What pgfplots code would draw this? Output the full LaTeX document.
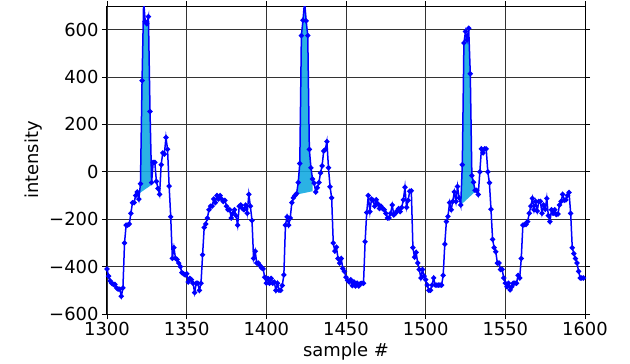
\documentclass[border=0pt]{standalone}
\usepackage{fontspec}
\setmainfont{DejaVu Sans}
\usepackage{pgfplots}
\pgfplotsset{compat=1.18}
\definecolor{fillc}{RGB}{20,170,225}
\begin{document}
\begin{tikzpicture}
\useasboundingbox (-107bp,-50bp) rectangle (523bp,314bp);
\begin{axis}[
  at={(0,0)}, anchor=south west,
  scale only axis, width=478bp, height=308bp,
  xmin=1300, xmax=1600, ymin=-600, ymax=700,
  xtick={1300,1350,1400,1450,1500,1550,1600},
  ytick={-600,-400,-200,0,200,400,600},
  yticklabels={−600,−400,−200,0,200,400,600},
  grid=major,
  grid style={black!80, line width=0.9bp},
  axis line style={line width=1bp},
  tick align=outside, major tick length=5bp,
  tick style={black, line width=0.9bp},
  xlabel={sample \#}, ylabel={intensity},
  ticklabel style={font=\fontsize{18}{21}\selectfont},
  label style={font=\fontsize{18}{21}\selectfont},
  /pgf/number format/assume math mode=true,
  /pgf/number format/1000 sep={},
]
\addplot[fill=fillc, draw=none, fill opacity=0.9] coordinates {
(1320.4,-90) (1321,-50) (1322,385) (1323,720) (1324,635) (1325,625) (1326,655) (1327,255) (1328,-45) (1328,-55)
};
\addplot[fill=fillc, draw=none, fill opacity=0.9] coordinates {
(1419.5,-95) (1420,-45) (1421,35) (1422,575) (1423,640) (1424,720) (1425,637) (1426,575) (1427,95) (1428,17) (1429,-30) (1429,-82)
};
\addplot[fill=fillc, draw=none, fill opacity=0.9] coordinates {
(1522,-140) (1523,30) (1524,544) (1525,592) (1526,557) (1527,606) (1528,414) (1529,-16) (1530,-44) (1531,-78) (1532,-78)
};
\addplot[blue, line width=1.5bp, mark=*, mark size=1.8bp, mark options={blue}] coordinates {
(1300,-410) (1301,-440) (1302,-460) (1303,-470) (1304,-475) (1305,-475) (1306,-490) (1307,-495) (1308,-495) (1309,-525)
(1310,-490) (1311,-300) (1312,-225) (1313,-225) (1314,-220) (1315,-175) (1316,-130) (1317,-130) (1318,-100) (1319,-85)
(1320,-115) (1321,-50) (1322,385) (1323,720) (1324,635) (1325,625) (1326,655) (1327,255) (1328,-45) (1329,40)
(1330,40) (1331,-40) (1332,-70) (1333,-95) (1334,30) (1335,80) (1336,75) (1337,145) (1338,95) (1339,-60)
(1340,-190) (1341,-365) (1342,-320) (1343,-365) (1344,-370) (1345,-385) (1346,-400) (1347,-425) (1348,-430) (1349,-435)
(1350,-430) (1351,-465) (1352,-450) (1353,-455) (1354,-470) (1355,-510) (1356,-470) (1357,-470) (1358,-500) (1359,-470)
(1360,-350) (1361,-235) (1362,-220) (1363,-195) (1364,-160) (1365,-145) (1366,-145) (1367,-115) (1368,-130) (1369,-100)
(1370,-115) (1371,-100) (1372,-115) (1373,-125) (1374,-120) (1375,-145) (1376,-160) (1377,-160) (1378,-195) (1379,-175)
(1380,-160) (1381,-185) (1382,-225) (1383,-145) (1384,-140) (1385,-155) (1386,-160) (1387,-140) (1388,-175) (1389,-95)
(1390,-145) (1391,-205) (1392,-365) (1393,-335) (1394,-385) (1395,-385) (1396,-395) (1397,-405) (1398,-410) (1399,-445)
(1400,-470) (1401,-450) (1402,-470) (1403,-450) (1404,-470) (1405,-465) (1406,-500) (1407,-470) (1408,-500) (1409,-500)
(1410,-480) (1411,-435) (1412,-225) (1413,-190) (1414,-225) (1415,-195) (1416,-130) (1417,-110) (1418,-100) (1419,-92)
(1420,-45) (1421,35) (1422,575) (1423,640) (1424,720) (1425,637) (1426,575) (1427,95) (1428,17) (1429,-30)
(1430,-48) (1431,-85) (1432,-67) (1433,-45) (1434,-5) (1435,25) (1436,88) (1437,94) (1438,128) (1439,17)
(1440,-63) (1441,-110) (1442,-300) (1443,-335) (1444,-318) (1445,-366) (1446,-385) (1447,-366) (1448,-408) (1449,-420)
(1450,-445) (1451,-458) (1452,-465) (1453,-455) (1454,-480) (1455,-465) (1456,-482) (1457,-470) (1458,-482) (1459,-472)
(1460,-470) (1461,-470) (1462,-295) (1463,-172) (1464,-100) (1465,-168) (1466,-115) (1467,-120) (1468,-145) (1469,-118)
(1470,-135) (1471,-155) (1472,-145) (1473,-155) (1474,-160) (1475,-175) (1476,-195) (1477,-195) (1478,-175) (1479,-140)
(1480,-182) (1481,-175) (1482,-165) (1483,-155) (1484,-168) (1485,-150) (1486,-118) (1487,-65) (1488,-150) (1489,-120)
(1490,-82) (1491,-80) (1492,-320) (1493,-360) (1494,-340) (1495,-385) (1496,-412) (1497,-448) (1498,-412) (1499,-440)
(1500,-455) (1501,-478) (1502,-500) (1503,-500) (1504,-478) (1505,-448) (1506,-478) (1507,-478) (1508,-478) (1509,-478)
(1510,-478) (1511,-437) (1512,-305) (1513,-210) (1514,-188) (1515,-130) (1516,-160) (1517,-125) (1518,-85) (1519,-125)
(1520,-62) (1521,-110) (1522,-140) (1523,30) (1524,544) (1525,592) (1526,557) (1527,606) (1528,414) (1529,-16)
(1530,-44) (1531,-78) (1532,-78) (1533,-96) (1534,0) (1535,97) (1536,80) (1537,97) (1538,97) (1539,0)
(1540,-46) (1541,-158) (1542,-285) (1543,-320) (1544,-337) (1545,-385) (1546,-385) (1547,-412) (1548,-412) (1549,-448)
(1550,-470) (1551,-485) (1552,-470) (1553,-498) (1554,-485) (1555,-470) (1556,-470) (1557,-470) (1558,-437) (1559,-448)
(1560,-366) (1561,-225) (1562,-222) (1563,-222) (1564,-210) (1565,-175) (1566,-145) (1567,-112) (1568,-160) (1569,-125)
(1570,-165) (1571,-125) (1572,-125) (1573,-175) (1574,-140) (1575,-158) (1576,-112) (1577,-185) (1578,-210) (1579,-160)
(1580,-175) (1581,-160) (1582,-180) (1583,-178) (1584,-140) (1585,-125) (1586,-95) (1587,-120) (1588,-118) (1589,-100)
(1590,-87) (1591,-175) (1592,-320) (1593,-345) (1594,-366) (1595,-385) (1596,-420) (1597,-448) (1598,-448) (1599,-448)
};
\end{axis}
\end{tikzpicture}
\end{document}
